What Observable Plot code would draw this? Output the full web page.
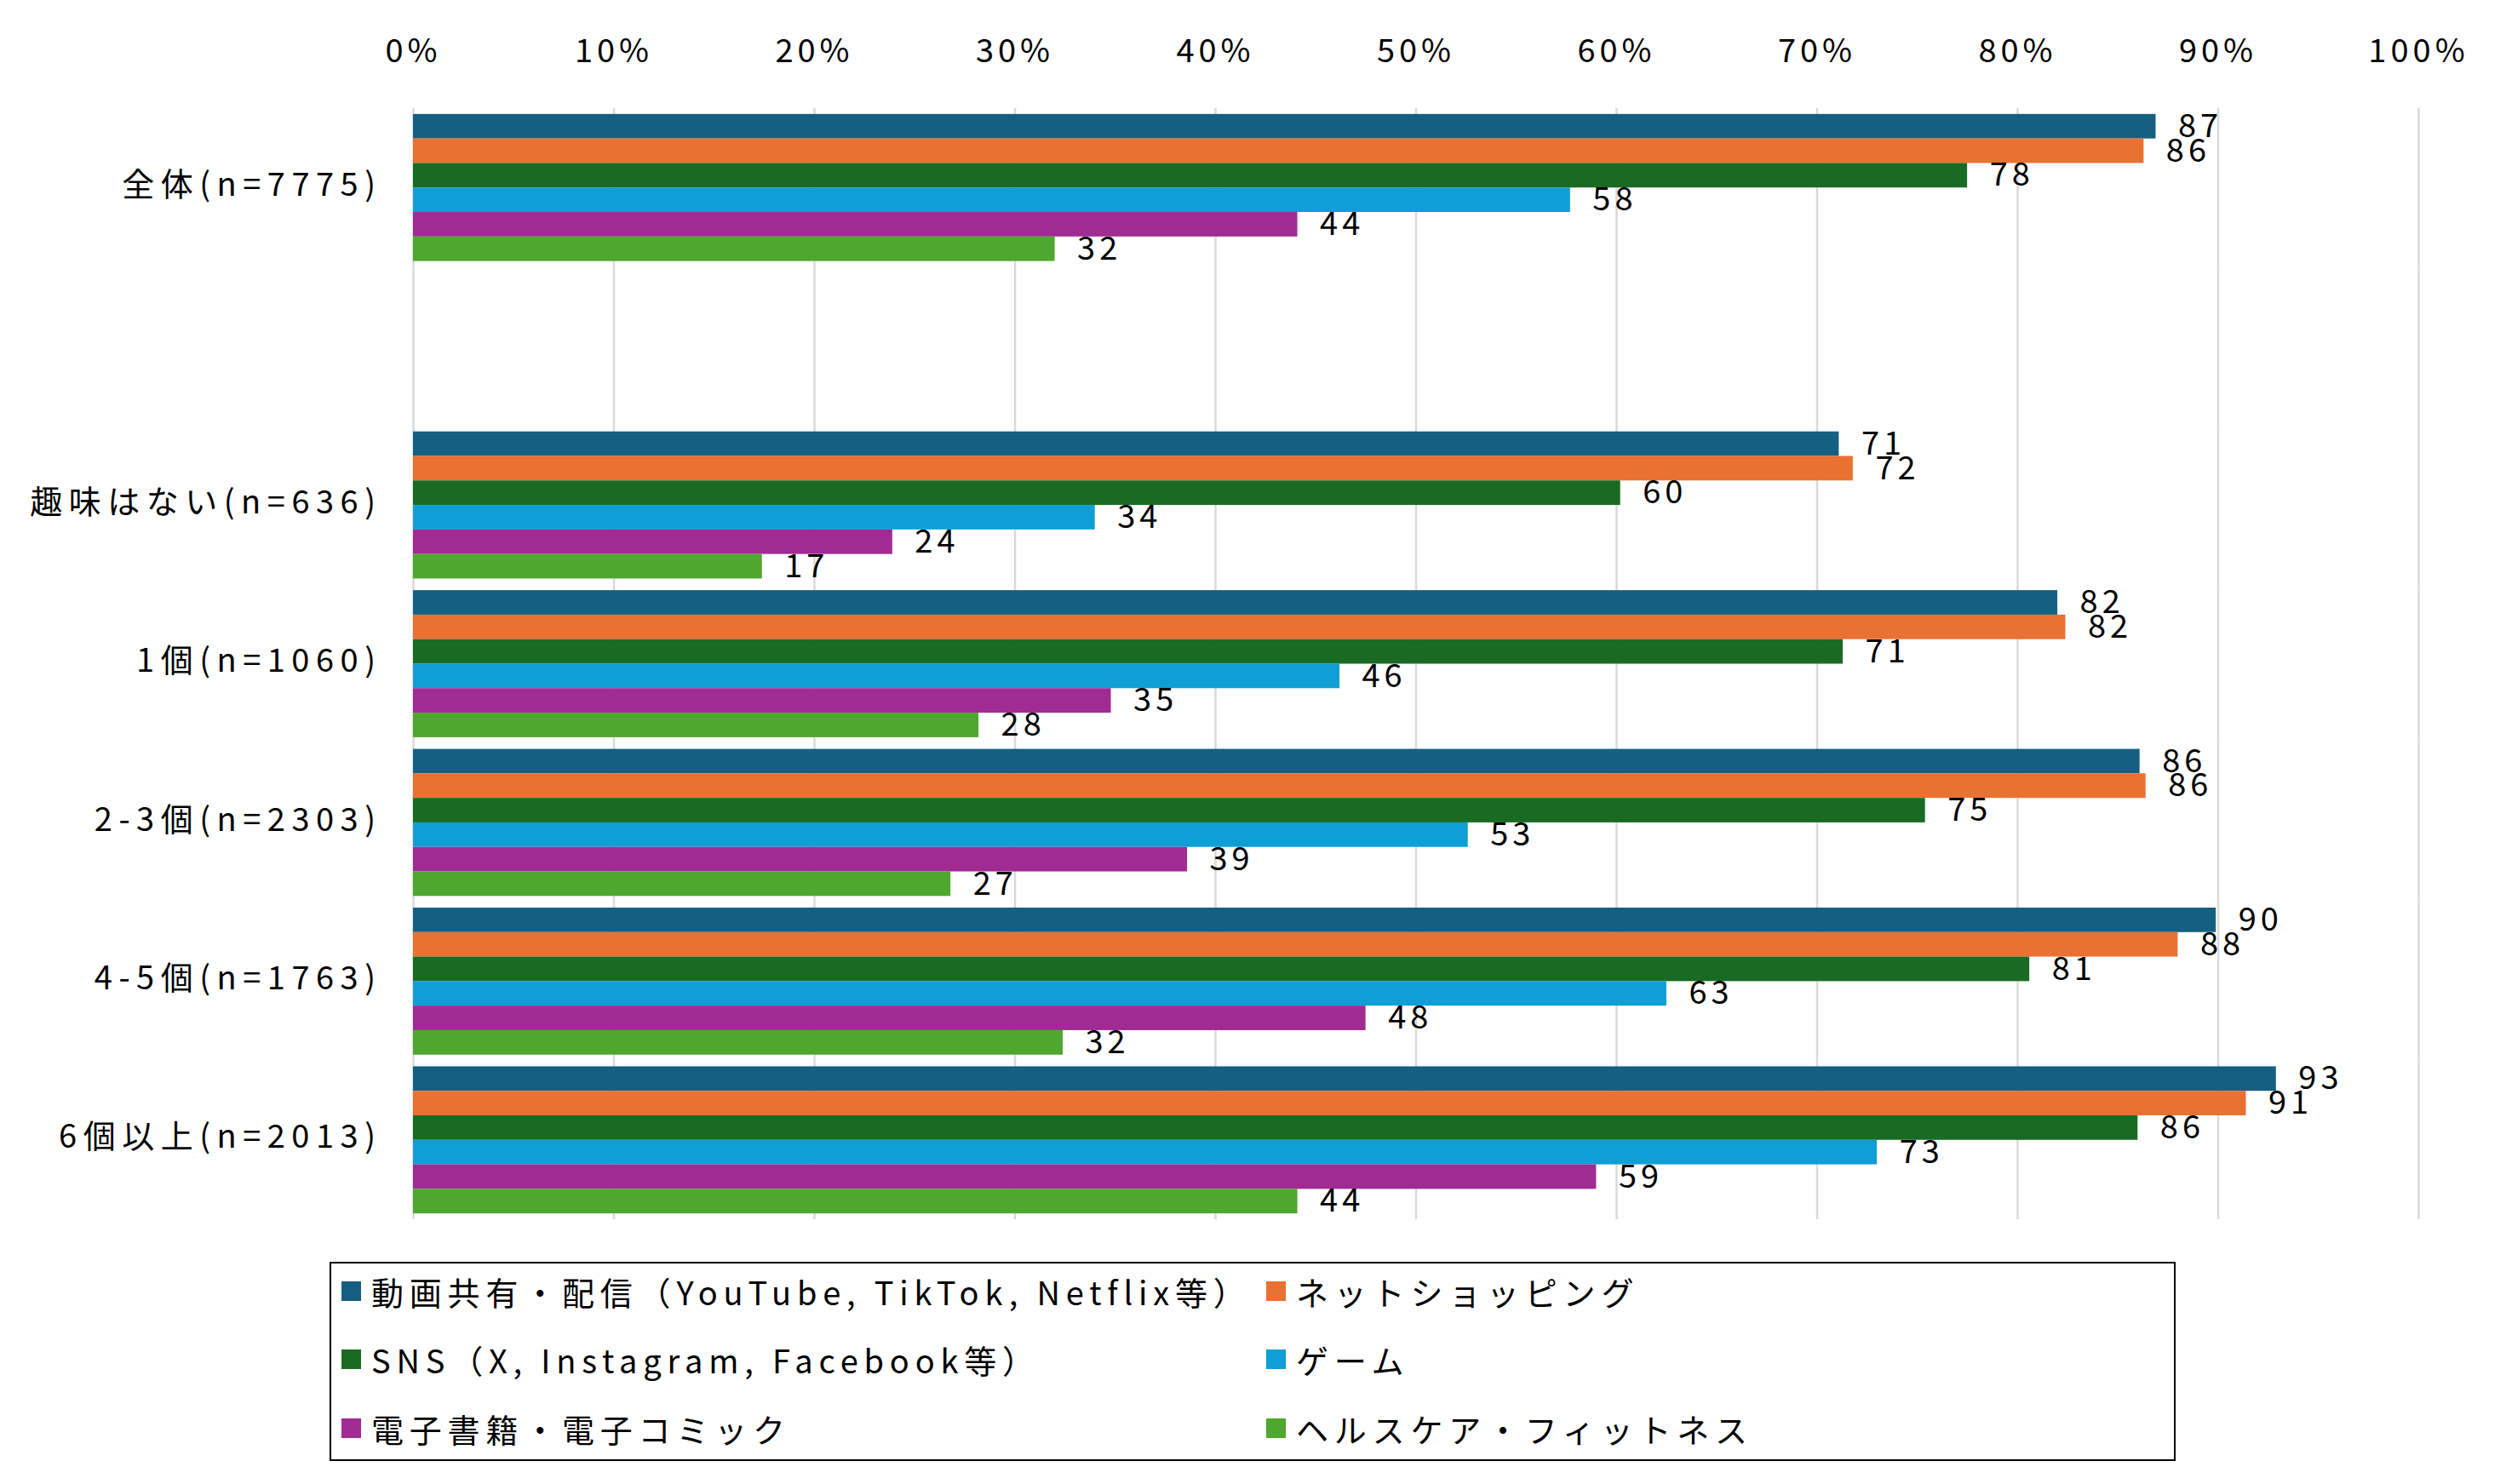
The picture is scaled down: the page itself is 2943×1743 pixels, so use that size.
<!DOCTYPE html>
<html>
<head>
<meta charset="utf-8">
<script src="https://cdn.jsdelivr.net/npm/d3@7"></script>
<script src="https://cdn.jsdelivr.net/npm/@observablehq/plot@0.6"></script>
<style>
  html, body { margin: 0; padding: 0; background: #fff; }
  body { width: 2943px; height: 1743px; position: relative; overflow: hidden;
         font-family: "Noto Sans CJK JP", "Noto Sans", sans-serif; color: #000; }
  #chart { position: absolute; left: 0; top: 0; }
  #chart [aria-label="fy-axis tick label"] { letter-spacing: 7.5px; }
  #legend { position: absolute; left: 387px; top: 1482px; width: 2168px; height: 234px;
            box-sizing: border-box; border: 2.5px solid #000; background: #fff;
            display: grid; grid-template-columns: 1086px 1fr; grid-auto-rows: 80.5px;
            padding-left: 12px; padding-top: 0px; align-items: center; }
  .item { display: flex; align-items: center; font-size: 38px; letter-spacing: 6.8px;
          white-space: nowrap; position: relative; top: -8px; }
  .sw { width: 23px; height: 23px; margin-right: 12px; flex: none; }
</style>
</head>
<body>
<div id="chart"></div>
<div id="legend"></div>
<script>
// ---- data ----
const groups = ["全体(n=7775)", "", "趣味はない(n=636)", "1個(n=1060)", "2-3個(n=2303)", "4-5個(n=1763)", "6個以上(n=2013)"];
const dataGroups = ["全体(n=7775)", "趣味はない(n=636)", "1個(n=1060)", "2-3個(n=2303)", "4-5個(n=1763)", "6個以上(n=2013)"];
const series = [
  "動画共有・配信（YouTube, TikTok, Netflix等）",
  "ネットショッピング",
  "SNS（X, Instagram, Facebook等）",
  "ゲーム",
  "電子書籍・電子コミック",
  "ヘルスケア・フィットネス"
];
const colors = ["#156082", "#E97132", "#196B24", "#0F9ED5", "#A02B93", "#4EA72E"];
const video    = [86.9, 71.1, 82.0, 86.1, 89.9, 92.9];
const shopping = [86.3, 71.8, 82.4, 86.4, 88.0, 91.4];
const sns      = [77.5, 60.2, 71.3, 75.4, 80.6, 86.0];
const game     = [57.7, 34.0, 46.2, 52.6, 62.5, 73.0];
const ebook    = [44.1, 23.9, 34.8, 38.6, 47.5, 59.0];
const health   = [32.0, 17.4, 28.2, 26.8, 32.4, 44.1];
const xTicks = [0, 10, 20, 30, 40, 50, 60, 70, 80, 90, 100];

const seriesValues = [video, shopping, sns, game, ebook, health];
const rows = [];
dataGroups.forEach((g, gi) => {
  series.forEach((s, si) => rows.push({group: g, series: s, value: seriesValues[si][gi]}));
});
// gridlines in every facet (including the blank spacer row)
const gridRows = groups.flatMap(g => xTicks.map(t => ({group: g, tick: t})));

const chart = Plot.plot({
  width: 2943,
  height: 1450,
  marginTop: 127,
  marginBottom: 18,
  marginLeft: 485,
  marginRight: 103,
  style: {fontSize: "38px", fontFamily: "'Noto Sans CJK JP', 'Noto Sans', sans-serif", letterSpacing: "5px", color: "#000", background: "#fff"},
  x: {domain: [0, 100], axis: null},
  y: {domain: series, paddingInner: 0, paddingOuter: 0.238, round: false, axis: null},
  fy: {domain: groups, padding: 0, round: false, axis: null},
  color: {domain: series, range: colors},
  marks: [
    Plot.ruleX(gridRows, {x: "tick", fy: "group", stroke: "#d9d9d9", strokeOpacity: 1, strokeWidth: 2.5}),
    Plot.axisX(xTicks, {anchor: "top", facetAnchor: "top", tickSize: 0, tickPadding: 55, tickFormat: d => d + "%", label: null, fill: "#000"}),
    Plot.axisFy({anchor: "left", tickSize: 0, tickPadding: 37, dy: -3, label: null, fill: "#000"}),
    Plot.barX(rows, {x: "value", y: "series", fy: "group", fill: "series"}),
    Plot.text(rows, {x: "value", y: "series", fy: "group", text: d => String(Math.round(d.value)),
                     textAnchor: "start", dx: 26, fill: "#000"})
  ]
});
document.getElementById("chart").appendChild(chart);

const legend = d3.select("#legend");
series.forEach((s, i) => {
  const it = legend.append("div").attr("class", "item");
  it.append("span").attr("class", "sw").style("background", colors[i]);
  it.append("span").text(s);
});
</script>
</body>
</html>
